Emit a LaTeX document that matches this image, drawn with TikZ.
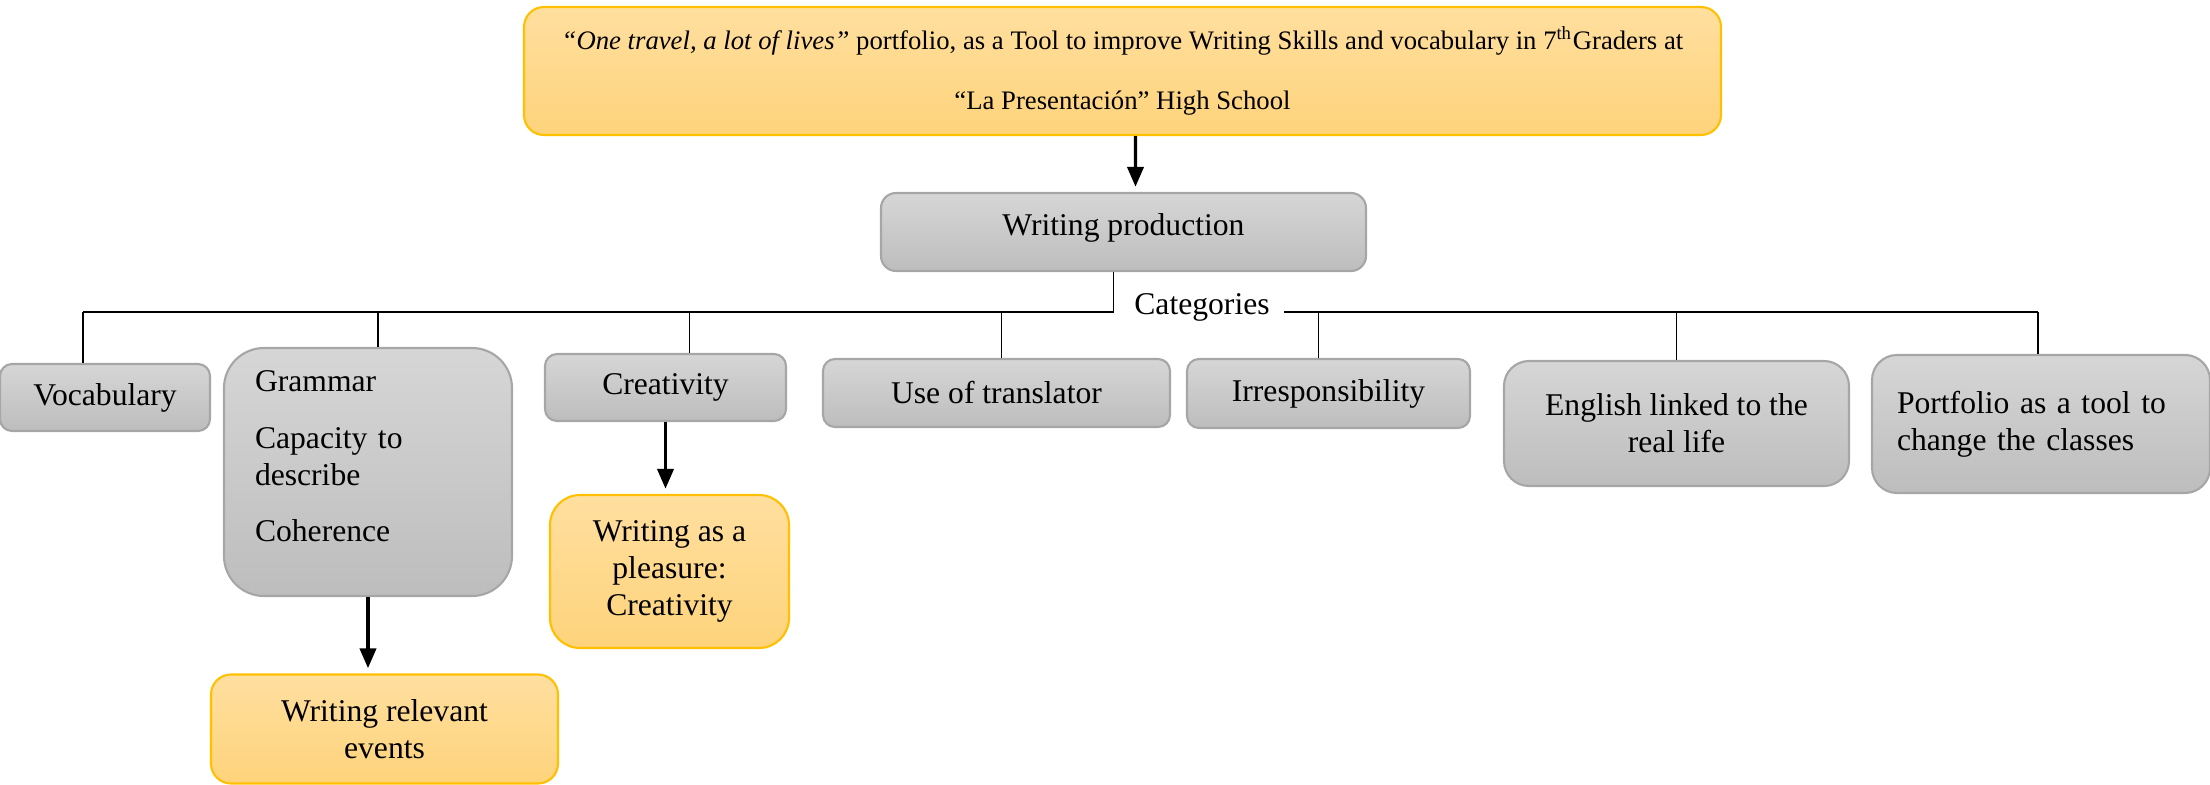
\documentclass[tikz,border=0pt]{standalone}
\usepackage{fontspec}
\setmainfont{Liberation Serif}
\usepackage{tikz}
\usetikzlibrary{arrows.meta}
\definecolor{grayTop}{HTML}{D6D6D6}
\definecolor{grayBottom}{HTML}{BDBDBD}
\definecolor{grayEdge}{HTML}{A6A6A6}
\definecolor{goldTop}{HTML}{FFDF9F}
\definecolor{goldBottom}{HTML}{FED37B}
\definecolor{goldEdge}{HTML}{FFC000}
\tikzset{
  catBox/.style={draw=grayEdge, line width=0.6pt, top color=grayTop, bottom color=grayBottom,
    rounded corners=0.12cm, inner sep=0pt, align=center, font=\fontsize{9}{10.6}\selectfont},
  goldBox/.style={draw=goldEdge, line width=0.6pt, top color=goldTop, bottom color=goldBottom,
    rounded corners=0.25cm, inner sep=0pt, align=center, font=\fontsize{9}{10.6}\selectfont},
  busLine/.style={draw=black, line width=0.5pt},
  flowArrow/.style={draw=black, line width=0.9pt, shorten >=1.5pt, -{Triangle[width=4.6pt,length=5.6pt]}},
  catLabel/.style={inner sep=1pt, font=\fontsize{9}{10.6}\selectfont}
}

\begin{document}
\begin{tikzpicture}
  \useasboundingbox (0,0) rectangle (22.1,-7.85);

  \node[goldBox, minimum width=11.97cm, minimum height=1.28cm, rounded corners=0.2cm,
    font=\fontsize{7.6}{9}\selectfont] (title) at (11.225,-0.71)
    {\textit{“One travel, a lot of lives”} portfolio, as a Tool to improve Writing Skills and vocabulary in 7\textsuperscript{th}Graders at\\[8pt]
     “La Presentación” High School};
  \node[catBox, minimum width=4.85cm, minimum height=0.78cm, rounded corners=0.15cm] (writing) at (11.235,-2.32)
    {Writing production\rule[-4pt]{0pt}{1pt}};
  \node[catLabel] (cat) at (12.02,-3.07) {Categories};

  % categories
  \node[catBox, minimum width=2.10cm, minimum height=0.67cm] (vocab) at (1.05,-3.975) {Vocabulary};
  \node[catBox, minimum width=2.88cm, minimum height=2.48cm, rounded corners=0.4cm, align=left, text width=2.26cm] (grammar) at (3.68,-4.72)
    {Grammar\\[5.5pt]Capacity to\\describe\\[5.5pt]Coherence\rule[-9pt]{0pt}{1pt}};
  \node[catBox, minimum width=2.41cm, minimum height=0.67cm] (crea) at (6.655,-3.875) {Creativity};
  \node[catBox, minimum width=3.47cm, minimum height=0.68cm] (transl) at (9.965,-3.93) {Use of translator};
  \node[catBox, minimum width=2.83cm, minimum height=0.69cm] (irresp) at (13.285,-3.935) {Irresponsibility};
  \node[catBox, minimum width=3.45cm, minimum height=1.25cm, rounded corners=0.25cm] (english) at (16.765,-4.235) {English linked to the\\real life};
  \node[catBox, minimum width=3.38cm, minimum height=1.38cm, rounded corners=0.25cm, align=left, text width=2.88cm] (portfolio) at (20.41,-4.24)
    {Portfolio as a tool to\\change the classes};

  % results
  \node[goldBox, minimum width=2.39cm, minimum height=1.53cm, rounded corners=0.3cm] (pleasure) at (6.695,-5.715) {Writing as a\\pleasure:\\Creativity};
  \node[goldBox, minimum width=3.47cm, minimum height=1.09cm, rounded corners=0.2cm] (events) at (3.845,-7.29) {Writing relevant\\events};

  \coordinate (busL) at (0.83,-3.12);
  \coordinate (busR) at (20.38,-3.12);

  \draw[flowArrow] ([xshift=0.13cm]title.south) -- ([xshift=0.12cm]writing.north);
  \draw[busLine] ([xshift=-0.1cm]writing.south) -- ([xshift=-0.1cm]writing.south |- busL) -- (busL);
  \draw[busLine] ([xshift=3pt]cat.east |- busR) -- (busR);

  \draw[busLine] (busL) -- (vocab.north -| busL);
  \draw[busLine] ([xshift=0.1cm]grammar.north) -- ([xshift=0.1cm]grammar.north |- busL);
  \draw[busLine] ([xshift=0.24cm]crea.north) -- ([xshift=0.24cm]crea.north |- busL);
  \draw[busLine] ([xshift=0.05cm]transl.north) -- ([xshift=0.05cm]transl.north |- busL);
  \draw[busLine] ([xshift=-0.1cm]irresp.north) -- ([xshift=-0.1cm]irresp.north |- busL);
  \draw[busLine] (english.north) -- (english.north |- busL);
  \draw[busLine] (portfolio.north -| busR) -- (busR);

  \draw[flowArrow] (crea.south) -- (crea.south |- pleasure.north);
  \draw[flowArrow] (grammar.south) -- (grammar.south |- events.north);
\end{tikzpicture}
\end{document}
